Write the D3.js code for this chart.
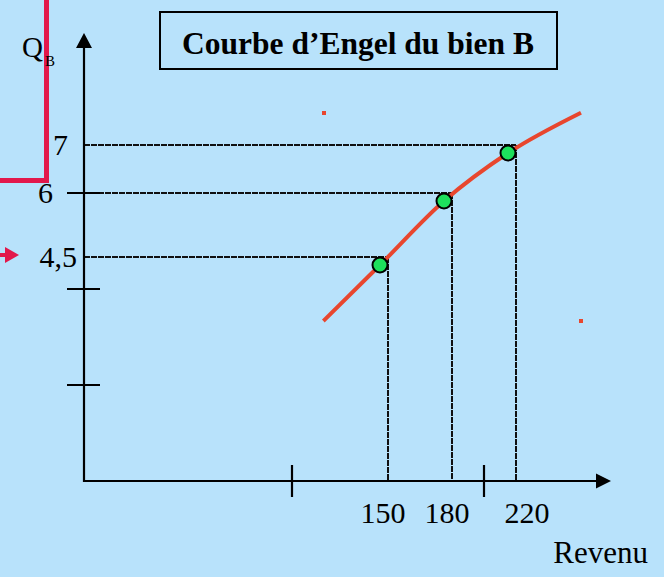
<!DOCTYPE html>
<html><head><meta charset="utf-8">
<script src="https://cdn.jsdelivr.net/npm/d3@7"></script>
<style>
html,body{margin:0;padding:0;background:#B8E2FB;}
svg{display:block;}
text{font-family:"Liberation Serif","Times New Roman",serif;fill:#000;}
</style></head>
<body>
<svg id="chart" width="664" height="577"></svg>
<script>
// ---- data ----
const title = "Courbe d\u2019Engel du bien B";
const xTitle = "Revenu";
const yTitleMain = "Q";
const yTitleSub = "B";
const incomes = [150, 180, 220];            // revenu
const quantities = [4.5, 6, 7];             // quantité du bien B
const incomeLabels = ["150", "180", "220"];
const quantityLabels = ["4,5", "6", "7"];
const xTickValues = [100, 200];             // unlabelled ticks on x axis
const yTickValues = [2, 4, 6];              // tick marks on y axis
const curveIncome = [120.5, 150, 180, 220, 265.6];
const curveQuantity = [3.5, 4.5, 6, 7, 7.84];

// ---- layout / scales ----
const svg = d3.select("#chart");
const x = d3.scaleLinear().domain([0, 100, 150, 180, 200, 220]).range([84, 292, 388, 452, 484, 516]);
const y = d3.scaleLinear().domain([0, 2, 4, 4.5, 6, 7]).range([481, 385, 289, 257, 193, 145]);
const x0 = x(0), y0 = y(0);
const red = "#E8462E", crimson = "#E2184B";
const labelStyle = { "4,5": {dx: -7}, "6": {dx: -31}, "7": {dx: -16} };
const xLabelStyle = { "150": -5, "180": -5, "220": 11 };

// annotation remnants (crimson frame + arrow)
svg.append("path").attr("d", "M0,180.5 H46.5 V0")
  .attr("fill", "none").attr("stroke", crimson).attr("stroke-width", 5);
svg.append("line").attr("x1", 0).attr("x2", 8).attr("y1", 255).attr("y2", 255)
  .attr("stroke", crimson).attr("stroke-width", 4);
svg.append("path").attr("d", "M5,247 L19,255 L5,263 Z").attr("fill", crimson);

// stray small red marks
svg.append("rect").attr("x", 322).attr("y", 111).attr("width", 4).attr("height", 4).attr("fill", red);
svg.append("rect").attr("x", 579).attr("y", 319).attr("width", 4).attr("height", 4).attr("fill", red);

// title box
svg.append("rect").attr("x", 160).attr("y", 12).attr("width", 397).attr("height", 57)
  .attr("fill", "none").attr("stroke", "#000").attr("stroke-width", 2);
svg.append("text").attr("x", 358).attr("y", 54).attr("text-anchor", "middle")
  .attr("font-size", 31.5).attr("font-weight", "bold").text(title);

// reference (dashed) lines
const pts = incomes.map((v, i) => ({x: v, y: quantities[i], xl: incomeLabels[i], yl: quantityLabels[i]}));
const guides = svg.append("g").attr("stroke", "#111").attr("stroke-width", 2).attr("stroke-dasharray", "6,1");
guides.selectAll(".h").data(pts).join("line")
  .attr("x1", x0).attr("x2", d => x(d.x)).attr("y1", d => y(d.y)).attr("y2", d => y(d.y));
guides.selectAll(".v").data(pts).join("line")
  .attr("x1", d => x(d.x)).attr("x2", d => x(d.x)).attr("y1", d => y(d.y)).attr("y2", y0);

// axes
const axes = svg.append("g").attr("stroke", "#000").attr("stroke-width", 2.2);
axes.append("line").attr("x1", x0).attr("x2", x0).attr("y1", y0 + 1).attr("y2", 46);
axes.append("line").attr("x1", x0 - 1).attr("x2", 598).attr("y1", y0).attr("y2", y0);
svg.append("path").attr("d", `M${x0},33 L${x0 + 8},48 L${x0 - 8},48 Z`).attr("fill", "#000");
svg.append("path").attr("d", `M611,${y0} L596,${y0 - 7.5} L596,${y0 + 7.5} Z`).attr("fill", "#000");
axes.selectAll(".yt").data(yTickValues).join("line")
  .attr("x1", x0 - 17).attr("x2", x0 + 16).attr("y1", d => y(d)).attr("y2", d => y(d));
axes.selectAll(".xt").data(xTickValues).join("line")
  .attr("x1", d => x(d)).attr("x2", d => x(d)).attr("y1", y0 - 16).attr("y2", y0 + 16);

// axis labels
svg.selectAll(".ylab").data(pts).join("text")
  .attr("x", d => x0 + labelStyle[d.yl].dx).attr("y", d => y(d.y) + 10)
  .attr("text-anchor", "end").attr("font-size", 30).text(d => d.yl);
svg.selectAll(".xlab").data(pts).join("text")
  .attr("x", d => x(d.x) + xLabelStyle[d.xl]).attr("y", 523)
  .attr("text-anchor", "middle").attr("font-size", 30).text(d => d.xl);
svg.append("text").attr("x", 648).attr("y", 563).attr("text-anchor", "end")
  .attr("font-size", 31).text(xTitle);
const qt = svg.append("text").attr("x", 22).attr("y", 57).attr("font-size", 29);
qt.append("tspan").text(yTitleMain);
qt.append("tspan").attr("font-size", 15).attr("dy", 9).attr("dx", 2).text(yTitleSub);

// Engel curve and points (drawn slightly offset as in the original)
const g = svg.append("g").attr("transform", "translate(-8,8)");
const curveData = curveIncome.map((v, i) => [v, curveQuantity[i]]);
g.append("path").datum(curveData)
  .attr("d", d3.line().x(d => x(d[0])).y(d => y(d[1])).curve(d3.curveMonotoneX))
  .attr("fill", "none").attr("stroke", red).attr("stroke-width", 4);
g.selectAll("circle").data(pts).join("circle")
  .attr("cx", d => x(d.x)).attr("cy", d => y(d.y)).attr("r", 7.5)
  .attr("fill", "#1DE05C").attr("stroke", "#000").attr("stroke-width", 2);
</script>
</body></html>
